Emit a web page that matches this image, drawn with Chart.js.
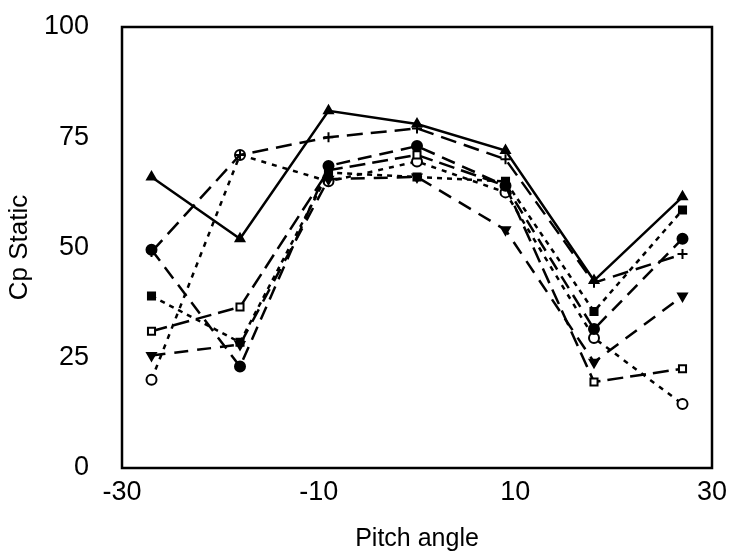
<!DOCTYPE html>
<html>
<head>
<meta charset="utf-8">
<script src="https://cdn.jsdelivr.net/npm/chart.js@4/dist/chart.umd.min.js"></script>
<style>
  html, body { margin: 0; padding: 0; background: #fff; }
  #wrap { width: 730px; height: 558px; }
</style>
</head>
<body>
<div id="wrap"><canvas id="cp"></canvas></div>
<script>
// pitch angles (x) and Cp static values
const pitch = [-27, -18, -9, 0, 9, 18, 27];
const triUp    = [66, 52, 81, 78, 72, 42.5, 61.5];
const crossSer = [49, 71, 75, 77, 70, 42, 48.5];
const fillCirc = [49.5, 23, 68.5, 73, 64, 31.5, 52];
const fillSq   = [39, 28.5, 67, 66, 65, 35.5, 58.5];
const openSq   = [31, 36.5, 67.5, 71, 64, 19.5, 22.5];
const triDown  = [25.5, 28, 65.5, 66, 54, 24, 39];
const openCirc = [20, 71, 65, 69.5, 62.5, 29.5, 14.5];
const yTicks = [0, 25, 50, 75, 100];
const xTicks = [-30, -10, 10, 30];

const font = "'Liberation Sans', Arial, sans-serif";

function ser(vals, style, dash, fill, rot) {
    return {
        data: pitch.map((x, i) => ({ x: x, y: vals[i] })),
        borderColor: '#000',
        borderWidth: 2.5,
        borderDash: dash,
        pointStyle: style,
        pointRotation: rot || 0,
        pointRadius: 5,
        pointBorderWidth: 2,
        pointBorderColor: '#000',
        pointBackgroundColor: fill ? '#000' : '#fff',
        tension: 0
    };
}

// frame round the plot area
const boxPlugin = {
    id: 'box',
    afterDraw(chart) {
        const a = chart.chartArea, c = chart.ctx;
        c.save();
        c.strokeStyle = '#000';
        c.lineWidth = 2.5;
        c.strokeRect(a.left, a.top, a.right - a.left, a.bottom - a.top);
        c.restore();
    }
};

new Chart(document.getElementById('cp').getContext('2d'), {
    type: 'line',
    data: {
        datasets: [
            ser(triUp, 'triangle', [], true),
            ser(crossSer, 'cross', [16, 8], true),
            ser(fillCirc, 'circle', [14, 8], true),
            ser(fillSq, 'rect', [5, 5], true),
            ser(openSq, 'rect', [16, 7], false),
            ser(triDown, 'triangle', [14, 9], true, 180),
            ser(openCirc, 'circle', [5, 6], false)
        ]
    },
    plugins: [boxPlugin],
    options: {
        responsive: true,
        maintainAspectRatio: false,
        animation: false,
        layout: { padding: { top: 27, right: 18, left: 0, bottom: 0 } },
        plugins: { legend: { display: false }, tooltip: { enabled: false } },
        scales: {
            x: {
                type: 'linear', min: -30, max: 30,
                afterBuildTicks: s => { s.ticks = xTicks.map(v => ({ value: v })); },
                afterFit: s => { s.height = 90; s.paddingLeft = 0; s.paddingRight = 0; },
                grid: { display: false, drawTicks: false },
                border: { display: false },
                ticks: { color: '#000', padding: 8, font: { family: font, size: 27 } },
                title: { display: true, text: 'Pitch angle', color: '#000', padding: { top: 0, bottom: 4 }, font: { family: font, size: 25 } }
            },
            y: {
                min: 0, max: 100,
                afterBuildTicks: s => { s.ticks = yTicks.map(v => ({ value: v })); },
                afterFit: s => { s.width = 122; s.paddingTop = 0; s.paddingBottom = 0; },
                grid: { display: false, drawTicks: false },
                border: { display: false },
                ticks: { color: '#000', padding: 33, font: { family: font, size: 27 } },
                title: { display: true, text: 'Cp Static', color: '#000', padding: { top: 4, bottom: 0 }, font: { family: font, size: 26 } }
            }
        }
    }
});
</script>
</body>
</html>
